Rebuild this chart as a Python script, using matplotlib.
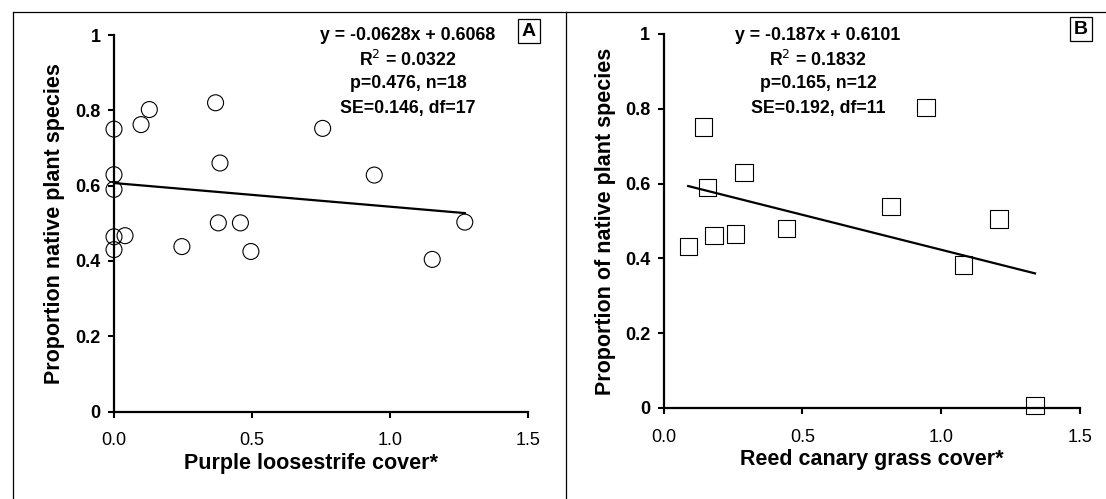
import matplotlib
matplotlib.use("Agg")
import matplotlib.pyplot as plt
from matplotlib.lines import Line2D
import numpy as np

plt.rcParams['font.family'] = ['Liberation Sans', 'DejaVu Sans']

# Panel A: purple loosestrife
a_x = [0.0, 0.0, 0.0, 0.0, 0.0, 0.040, 0.098, 0.128, 0.246, 0.368, 0.384, 0.378,
       0.458, 0.496, 0.756, 0.943, 1.153, 1.271]
a_y = [0.750, 0.629, 0.590, 0.464, 0.430, 0.467, 0.762, 0.802, 0.438, 0.820, 0.660, 0.501,
       0.501, 0.425, 0.752, 0.628, 0.404, 0.503]
a_slope, a_icpt = -0.0628, 0.6068
a_stats = ["y = -0.0628x + 0.6068", "R$^{2}$ = 0.0322", "p=0.476, n=18", "SE=0.146, df=17"]

# Panel B: reed canary grass
b_x = [0.089, 0.143, 0.159, 0.182, 0.260, 0.290, 0.443, 0.819, 0.946, 1.080, 1.208, 1.338]
b_y = [0.431, 0.751, 0.589, 0.461, 0.465, 0.630, 0.480, 0.538, 0.804, 0.382, 0.505, 0.006]
b_slope, b_icpt = -0.187, 0.6101
b_stats = ["y = -0.187x + 0.6101", "R$^{2}$ = 0.1832", "p=0.165, n=12", "SE=0.192, df=11"]

xticks = [0.0, 0.5, 1.0, 1.5]
xtick_lbl = ["0.0", "0.5", "1.0", "1.5"]
yticks = [0, 0.2, 0.4, 0.6, 0.8, 1.0]
ytick_lbl = ["0", "0.2", "0.4", "0.6", "0.8", "1"]

W, H = 1106, 499
def fx(x): return x / W
def fy(y): return 1 - y / H

fig = plt.figure(figsize=(W / 100, H / 100), dpi=100)

def panel(rect, xs, ys, slope, icpt, marker, ms, stats, stat_cx, xlabel, ylabel, ylab_pos, xlab_pos, letter, letter_pos):
    l, r, t, b = rect
    ax = fig.add_axes([fx(l), fy(b), fx(r) - fx(l), fy(t) - fy(b)])
    ax.set_xlim(0, 1.5); ax.set_ylim(0, 1)
    ax.scatter(xs, ys, s=ms**2, marker=marker, facecolors="none", edgecolors="black",
               linewidths=0.8, clip_on=False, zorder=3)
    lx = np.array([min(xs), max(xs)])
    ax.plot(lx, slope * lx + icpt, color="black", lw=1.6, zorder=2)
    for s in ("top", "right"): ax.spines[s].set_visible(False)
    for s in ("left", "bottom"): ax.spines[s].set_linewidth(1.6)
    ax.set_xticks(xticks); ax.set_xticklabels(xtick_lbl, fontsize=13)
    ax.set_yticks(yticks); ax.set_yticklabels(ytick_lbl, fontsize=13, fontweight="bold")
    ax.tick_params(axis="x", length=4, width=1.5, pad=11)
    ax.tick_params(axis="y", length=4.5, width=1.5, pad=5)
    for txt, yy in zip(stats, [35, 60, 84, 108]):
        fig.text(fx(stat_cx), fy(yy), txt, ha="center", va="center", fontsize=12.8, fontweight="bold")
    fig.text(fx(ylab_pos[0]), fy(ylab_pos[1]), ylabel, rotation=90, ha="center", va="center",
             fontsize=15.5, fontweight="bold")
    fig.text(fx(xlab_pos[0]), fy(xlab_pos[1]), xlabel, ha="center", va="center",
             fontsize=15.5, fontweight="bold")
    fig.text(fx(letter_pos[0]), fy(letter_pos[1]), letter, ha="center", va="center", fontsize=14,
             fontweight="bold",
             bbox=dict(boxstyle="square,pad=0.2", fc="white", ec="black", lw=0.9))
    return ax

panel((114, 528, 35, 411.5), a_x, a_y, a_slope, a_icpt, "o", 11.5, a_stats, 408,
      "Purple loosestrife cover*", "Proportion native plant species", (55, 224), (311, 463), "A", (529, 31))
panel((663.5, 1080, 34, 408), b_x, b_y, b_slope, b_icpt, "s", 12.5, b_stats, 818,
      "Reed canary grass cover*", "Proportion of native plant species", (606, 221), (872, 460), "B", (1081, 29))

# panel frames
for seg in [((12.5, 12.5), (12, 499)), ((12.5, 566), (12, 12)),
            ((566, 566), (12, 499)), ((566, 1106), (12, 12))]:
    fig.add_artist(Line2D([fx(v) for v in seg[0]], [fy(v) for v in seg[1]], color="black", lw=0.9))

fig.savefig("out.png", dpi=100)
